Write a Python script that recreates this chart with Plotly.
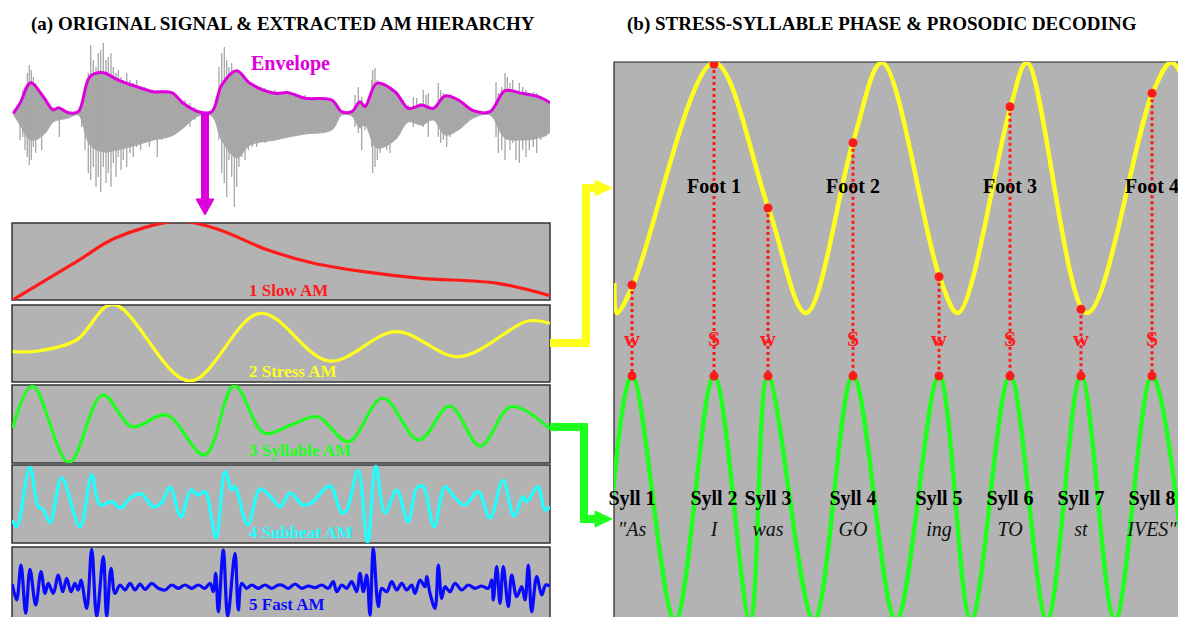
import plotly.graph_objects as go

OFF = 0                 # page offset of the chart inside the browser window (body margin removed)
FW, FH = 1178, 617      # figure size

# ---------------- DATA ----------------
# Original signal: envelope (time, level), waveform body lower edge, and individual spikes
env_t = [13.3, 20, 30.7, 43.3, 53.3, 58.3, 68.3, 78.3, 90, 103.3, 116.7, 136.7, 153.3, 171.7, 183.3,
         198.3, 211.7, 221.7, 236.7, 250, 275, 288.3, 305, 331.7, 341.7, 351.7, 360, 365, 376.7, 395,
         408.3, 421.7, 433.3, 445, 458.3, 473.3, 490, 505, 521.7, 538.3, 550]
env_v = [113.3, 103.3, 82.7, 96.7, 110, 107.7, 112.7, 111.7, 76.7, 72.7, 79.3, 86.7, 91.7, 92.7, 103.3,
         111.7, 111.7, 85, 70.7, 83.3, 93.3, 92.7, 98.3, 100, 111.7, 111.7, 101.7, 106.7, 83.3, 91.7,
         108.3, 105, 108.3, 96, 100, 110.7, 111.7, 90.7, 93.3, 96.7, 102.7]
body_lo_v = [114, 125, 140, 135, 122, 120, 118, 115, 145, 152, 150, 145, 140, 136, 128,
             116, 116, 140, 158, 145, 140, 137, 134, 130, 115, 116, 128, 125, 148, 140,
             122, 125, 120, 135, 130, 118, 115, 138, 140, 138, 132]

spike_t = [20, 22.7, 25, 27.3, 29.3, 31.3, 33.3, 35.7, 38.3, 41.7, 45, 48.3, 53.3, 59.3,
           81.7, 85, 88.3, 90.7, 93.3, 96, 98.3, 100.7, 103.3, 106, 108.3, 111, 113.3, 116, 118.3,
           121, 123.3, 126.7, 130, 133.3, 136.7, 140.7, 145, 149.3, 153.3, 157.3, 161.7, 166,
           170, 175, 180, 185, 190, 195,
           219, 221.7, 224.3, 226.7, 229, 231.7, 234.3, 236.7, 239, 241.7, 245, 248.3, 252.3,
           256.7, 261, 265, 270, 275, 280, 285, 290, 295, 300, 305, 310, 315, 320, 325, 330, 335,
           355, 358.3, 361.7, 365, 371.7,
           372.7, 375, 377.3, 380, 383.3, 386.7, 390, 393.3, 396.7, 400, 403.3, 408.3,
           413.3, 416.7, 420, 423.3, 426, 428.3,
           438.3, 440.7, 443.3, 446.7, 450, 453.3, 457.3, 461.7, 466.7,
           496, 498.3, 501.7, 505, 507.3, 510, 512.7, 516, 519.3, 522.7, 526, 529.3, 533.3,
           536.7, 540.7, 545, 549.3]
spike_top = [103, 90, 87, 73, 65, 70, 77, 83, 90, 93, 100, 103, 107, 107,
             107, 90, 73, 45, 60, 67, 53, 50, 43, 60, 57, 53, 67, 73, 70,
             77, 80, 73, 80, 83, 80, 87, 87, 90, 90, 90, 93, 95,
             93, 100, 103, 100, 103, 107,
             67, 53, 47, 60, 67, 63, 70, 72, 73, 77, 80, 83, 83,
             87, 87, 88, 90, 90, 92, 92, 93, 93, 95, 95, 97, 97, 98, 98, 100, 103,
             95, 87, 97, 103, 80,
             70, 68, 80, 83, 87, 88, 90, 90, 93, 97, 100, 105,
             97, 98, 103, 90, 95, 93,
             83, 90, 93, 95, 97, 98, 100, 103, 107,
             82, 93, 87, 73, 77, 83, 80, 90, 83, 87, 90, 93, 92,
             93, 97, 98, 102]
spike_bot = [140, 137, 150, 157, 165, 160, 147, 153, 140, 150, 133, 123, 120, 137,
             127, 150, 173, 180, 167, 187, 177, 192, 167, 183, 173, 187, 163, 177, 157,
             170, 160, 167, 153, 157, 147, 150, 143, 147, 140, 157, 140, 137,
             133, 130, 127, 123, 127, 120,
             140, 173, 183, 197, 160, 177, 207, 187, 167, 157, 160, 150, 147,
             147, 140, 143, 137, 140, 133, 137, 130, 133, 130, 127, 127, 123, 123, 120, 118, 117,
             127, 133, 150, 130, 147,
             173, 167, 160, 153, 147, 150, 153, 140, 137, 133, 120, 120,
             127, 120, 123, 127, 123, 137,
             137, 143, 140, 147, 137, 133, 130, 123, 120,
             137, 153, 150, 160, 140, 150, 143, 160, 163, 150, 157, 150, 147,
             153, 140, 133, 127]

# AM hierarchy bands (time, level)
slow_t = [12.6, 76.5, 114.8, 176, 214, 268, 313.8, 363.6, 421, 497.5, 550]
slow_v = [300, 261.7, 238.3, 221.5, 228, 250, 263.3, 271.7, 278.3, 283.3, 295.7]

stress_t = [12.6, 38.3, 76.5, 112.9, 189.4, 260.2, 329.1, 396, 459.2, 528, 550]
stress_v = [351.7, 351, 340, 304.3, 381, 313.3, 361, 331.7, 356.7, 321, 323.3]

syl_t = [12.6, 32.5, 68.9, 102.6, 132, 166.5, 204.7, 234.2, 264, 290.9, 317.6, 348.3, 382.7,
         419, 449.7, 480.3, 511, 550]
syl_v = [428, 386, 462.5, 395, 426.7, 415, 455, 385.5, 433, 425, 416.7, 441.7, 398,
         440, 406, 446, 406.7, 429]

sub_t = [12.3, 16.7, 30, 38.3, 43, 50, 61.7, 80, 91.7, 100, 111.7, 121, 130, 141.7, 153, 161.7,
         170, 181, 191, 198, 205, 216, 225, 231.7, 235, 247.7, 260, 271.7, 280, 290, 303, 311.7,
         330, 341.7, 346.7, 358, 367.7, 375.7, 385, 396.7, 408, 416.7, 423, 434, 445, 455, 465,
         478, 490, 503, 514, 523, 526.7, 538, 545, 550]
sub_v = [520, 526.7, 467, 506.7, 509, 522.7, 478, 526.7, 475, 505, 501.7, 508, 498, 494, 506.7,
         502.7, 487, 517, 490, 495, 491.7, 538, 471.7, 490, 486.7, 525, 489, 498, 506.7, 493, 505,
         502.7, 486, 513, 510, 470, 542.7, 466, 513, 490, 521.7, 488, 486, 526.7, 486.7, 498, 505,
         491.7, 518, 480, 516, 496.7, 501.7, 486.7, 510, 506.7]

fast_t = [12.3, 16.7, 21, 25.7, 30, 35.7, 41, 45, 48.3, 53.3, 58.3, 62.7, 66.7, 71, 75, 78.3, 81,
          86.7, 91.7, 96.7, 103.3, 106.7, 111, 115, 120, 125, 130, 135, 140, 145, 151.7, 158.3,
          165, 171.7, 178.3, 185, 191.7, 198.3, 205, 210, 213.3, 215.7, 218.3, 223.3, 227.7,
          235, 238.3, 241.7, 246.7, 251.7, 258.3, 265, 271.7, 278.3, 281.7, 288.3, 295, 301.7,
          308.3, 315, 321.7, 328.3, 333.3, 336.7, 341.7, 346.7, 351.7, 356.7, 360, 363.3,
          366.7, 370, 373.3, 378.3, 381.7, 386.7, 391.7, 396.7, 401.7, 406.7, 411.7, 415, 420,
          425, 426.7, 430, 435, 438.3, 441.7, 445, 450, 455, 461.7, 468.3, 475, 481.7, 488.3,
          491.7, 493.3, 496.7, 500, 503.3, 508.3, 511.7, 516.7, 521.7, 525, 528.3, 531.7,
          536.7, 541.7, 545.7, 550]
fast_v = [584, 600, 565, 613.3, 569.3, 605, 571.7, 593.3, 583.3, 593.3, 575, 591.7, 578.3, 591.7,
          583.3, 590, 580, 608.3, 549.3, 616.7, 556.7, 616.7, 568.3, 593.3, 585, 590, 583.3, 590,
          584, 589.3, 583.3, 588.3, 590, 585, 588.3, 585, 588.3, 585, 588.3, 583.3, 591.7, 573.3,
          611.7, 550, 616.7, 553.3, 610, 583.3, 588.3, 585, 588.3, 585, 588.3, 585, 585, 588.3,
          584, 588.3, 586, 587.7, 585, 588.3, 581.7, 591.7, 585, 588.3, 581.7, 591.7, 573.3,
          591.7, 575, 615, 548.3, 606.7, 588.3, 591.7, 581.7, 590, 583.3, 590, 585, 593.3, 580,
          586.7, 576.7, 593.3, 608.3, 565, 598.3, 586.7, 591.7, 583.3, 590, 585, 588.3, 586,
          588.3, 580, 600, 566.7, 603.3, 566.7, 606.7, 575, 596.7, 586.7, 600, 565, 611.7,
          576.7, 595, 585, 586]

# Stress-syllable phase panel
syll_x = [632, 714, 768, 853, 939, 1010, 1081, 1152]
stress_marks = ["w", "S", "w", "S", "w", "S", "w", "S"]
syll_names = ["Syll 1", "Syll 2", "Syll 3", "Syll 4", "Syll 5", "Syll 6", "Syll 7", "Syll 8"]
syll_words = ['"As', "I", "was", "GO", "ing", "TO", "st", 'IVES"']
stress_phase_at_syll = [285, 64, 208, 142.7, 276.7, 106.7, 309.3, 93.3]
syll_peak_level = 376
foot_names = ["Foot 1", "Foot 2", "Foot 3", "Foot 4"]
foot_x = [714, 853, 1010, 1152]

ph_t = [614.5, 616.8, 633, 714, 768.4, 806, 852.9, 882, 939.5, 958, 1010.6, 1027, 1087,
        1152.5, 1172, 1230]
ph_v = [283, 313, 285, 62.5, 208, 313, 142.7, 62.5, 276.7, 313, 106.7, 62.5, 313,
        93.3, 62.5, 313]

sy_t = [603, 632, 675, 714, 750, 768, 814, 853, 896, 939, 971, 1010, 1047, 1081, 1115, 1152, 1190]
sy_v = [620, 376, 620, 376, 620, 376, 620, 376, 620, 376, 620, 376, 620, 376, 620, 376, 620]

# ---------------- LAYOUT HELPERS ----------------
def px(x):
    return (x - OFF) / FW

def py(y):
    return 1 - (y - OFF) / FH

GRAY = "#b3b3b3"
SERIF = "Liberation Serif"
RED = "#ff1a1a"
YEL = "#ffff1e"
GRN = "#1eff1e"
CYA = "#1effff"
BLU = "#0a0aff"
MAG = "#dd00dd"

fig = go.Figure()

rows = [  # (axis id, top, bottom) pixel extent of each band
    ("y", 40, 220),
    ("y2", 223, 300),
    ("y3", 305, 382),
    ("y4", 385, 463),
    ("y5", 465, 543),
    ("y6", 547, 617),
]

# ---- left panel traces ----
poly_t = env_t + env_t[::-1]
poly_v = env_v + body_lo_v[::-1]
fig.add_trace(go.Scatter(x=poly_t, y=poly_v, fill="toself", fillcolor="#a8a8a8",
                         line=dict(color="#a8a8a8", width=1, shape="spline"), mode="lines",
                         xaxis="x", yaxis="y", hoverinfo="skip"))
sx, sy = [], []
for t, a, b in zip(spike_t, spike_top, spike_bot):
    sx += [t, t, None]
    sy += [a, b, None]
fig.add_trace(go.Scatter(x=sx, y=sy, mode="lines", line=dict(color="#a6a6a6", width=1.3),
                         xaxis="x", yaxis="y", hoverinfo="skip"))
fig.add_trace(go.Scatter(x=env_t, y=env_v, mode="lines", line=dict(color=MAG, width=3, shape="spline"),
                         xaxis="x", yaxis="y"))

bands = [
    (slow_t, slow_v, RED, "y2"),
    (stress_t, stress_v, YEL, "y3"),
    (syl_t, syl_v, GRN, "y4"),
    (sub_t, sub_v, CYA, "y5"),
    (fast_t, fast_v, BLU, "y6"),
]
for t, v, c, ya in bands:
    fig.add_trace(go.Scatter(x=t, y=v, mode="lines", line=dict(color=c, width=3.2, shape="spline"),
                             xaxis="x", yaxis=ya))

# ---- right panel traces ----
fig.add_trace(go.Scatter(x=ph_t, y=ph_v, mode="lines", line=dict(color=YEL, width=4.5, shape="spline"),
                         xaxis="x2", yaxis="y7"))
fig.add_trace(go.Scatter(x=sy_t, y=sy_v, mode="lines", line=dict(color=GRN, width=4.5, shape="spline"),
                         xaxis="x2", yaxis="y7"))
dx, dy = [], []
for xx, yy in zip(syll_x, stress_phase_at_syll):
    dx += [xx, xx, None]
    dy += [yy, syll_peak_level, None]
fig.add_trace(go.Scatter(x=dx, y=dy, mode="lines", line=dict(color=RED, width=3, dash="dot"),
                         xaxis="x2", yaxis="y7"))
fig.add_trace(go.Scatter(x=syll_x + syll_x, y=stress_phase_at_syll + [syll_peak_level] * len(syll_x),
                         mode="markers", marker=dict(color=RED, size=9),
                         xaxis="x2", yaxis="y7"))
text_rows = [
    (syll_x, 340, ["<b>%s</b>" % s for s in stress_marks], 22, RED),
    (foot_x, 188, ["<b>%s</b>" % s for s in foot_names], 20, "black"),
    (syll_x, 500, ["<b>%s</b>" % s for s in syll_names], 20, "black"),
    (syll_x, 531, ["<i>%s</i>" % s for s in syll_words], 20, "#111111"),
]
for xs, yv, txt, size, col in text_rows:
    fig.add_trace(go.Scatter(x=xs, y=[yv] * len(xs), mode="text", text=txt, cliponaxis=False,
                             textfont=dict(family=SERIF, size=size, color=col),
                             xaxis="x2", yaxis="y7"))

# ---- axes ----
hidden = dict(visible=False, showgrid=False, zeroline=False, fixedrange=True)
layout_axes = {}
layout_axes["xaxis"] = dict(hidden, range=[12, 550], domain=[px(12), px(550)], anchor="y")
for ya, top, bot in rows:
    key = "yaxis" if ya == "y" else "yaxis" + ya[1:]
    layout_axes[key] = dict(hidden, range=[bot, top], domain=[max(0, py(bot)), py(top)], anchor="x")
layout_axes["xaxis2"] = dict(hidden, range=[614, 1178], domain=[px(614), 1], anchor="y7")
layout_axes["yaxis7"] = dict(hidden, range=[617, 62], domain=[0, py(62)], anchor="x2")

# ---- shapes ----
shapes = []
for ya, top, bot in rows[1:]:
    shapes.append(dict(type="rect", xref="paper", yref="paper", layer="below",
                       x0=px(12), x1=px(550), y0=py(bot if bot < 617 else 640), y1=py(top),
                       fillcolor=GRAY, line=dict(color="#333333", width=1.5)))
shapes.append(dict(type="rect", xref="paper", yref="paper", layer="below",
                   x0=px(614), x1=px(1200), y0=py(640), y1=py(62),
                   fillcolor=GRAY, line=dict(color="#222222", width=1.2)))

def path(points):
    return "M " + " L ".join("%f,%f" % (px(a), py(b)) for a, b in points)

# magenta arrow
shapes.append(dict(type="path", xref="paper", yref="paper", path=path([(205, 112), (205, 201)]),
                   line=dict(color=MAG, width=8)))
shapes.append(dict(type="path", xref="paper", yref="paper",
                   path=path([(196, 199), (214, 199), (205, 215)]) + " Z",
                   fillcolor=MAG, line=dict(color=MAG, width=1)))
# yellow connector
shapes.append(dict(type="path", xref="paper", yref="paper",
                   path=path([(550, 343), (586, 343), (586, 188), (598, 188)]),
                   line=dict(color=YEL, width=8)))
shapes.append(dict(type="path", xref="paper", yref="paper",
                   path=path([(595, 180), (595, 196), (612, 188)]) + " Z",
                   fillcolor=YEL, line=dict(color=YEL, width=1)))
# green connector
shapes.append(dict(type="path", xref="paper", yref="paper",
                   path=path([(550, 427), (584, 427), (584, 519), (598, 519)]),
                   line=dict(color=GRN, width=8)))
shapes.append(dict(type="path", xref="paper", yref="paper",
                   path=path([(595, 511), (595, 527), (612, 519)]) + " Z",
                   fillcolor=GRN, line=dict(color=GRN, width=1)))

# ---- annotations ----
ann = []
def label(text, x, y, size, color, xanchor="center"):
    ann.append(dict(text=text, x=px(x), y=py(y), xref="paper", yref="paper", showarrow=False,
                    xanchor=xanchor, yanchor="middle",
                    font=dict(family=SERIF, size=size, color=color)))

label("<b>(a) ORIGINAL SIGNAL &amp; EXTRACTED AM HIERARCHY</b>", 283, 24, 19, "black")
label("<b>(b) STRESS-SYLLABLE PHASE &amp; PROSODIC DECODING</b>", 882, 24, 19, "black")
label("<b>Envelope</b>", 249, 64, 20, MAG, "left")
label("<b>1 Slow AM</b>", 247, 290, 17, RED, "left")
label("<b>2 Stress AM</b>", 247, 371, 17, YEL, "left")
label("<b>3 Syllable AM</b>", 247, 451, 17, GRN, "left")
label("<b>4 Subbeat AM</b>", 247, 532, 17, CYA, "left")
label("<b>5 Fast AM</b>", 247, 604, 17, BLU, "left")

fig.update_layout(width=FW, height=FH, margin=dict(l=0, r=0, t=0, b=0),
                  paper_bgcolor="white", plot_bgcolor="rgba(0,0,0,0)",
                  showlegend=False, shapes=shapes, annotations=ann, **layout_axes)

fig.write_html("out.html",
               config={"displayModeBar": False},
               post_script="document.body.style.margin='0';"
                           "document.documentElement.style.overflow='hidden';"
                           "document.body.style.overflow='hidden';")
